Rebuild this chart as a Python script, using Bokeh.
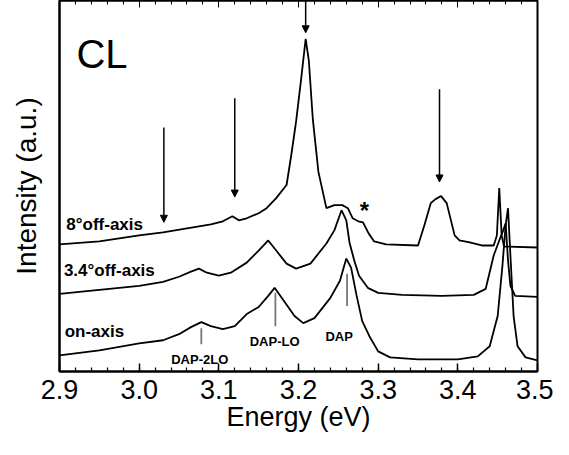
from bokeh.plotting import figure
from bokeh.models import Range1d, LinearAxis, FixedTicker, CustomJSTickFormatter, Arrow, NormalHead
from bokeh.core.properties import value
from bokeh.embed import file_html
from bokeh.resources import INLINE

FONT = "Liberation Sans"

# ---- data (intensity in arbitrary units) ----
on_E = [2.90, 2.95, 3.00, 3.03, 3.05, 3.065, 3.078, 3.09, 3.105, 3.12, 3.135, 3.15, 3.162, 3.170,
        3.18, 3.195, 3.206, 3.22, 3.24, 3.252, 3.260, 3.266, 3.273, 3.280, 3.289, 3.30, 3.315,
        3.35, 3.40, 3.425, 3.44, 3.45, 3.456, 3.460, 3.463, 3.466, 3.470, 3.475, 3.485, 3.50]
on_I = [16, 21, 28, 31, 37, 44, 49, 45, 42, 45, 57, 64, 75, 83,
        72, 55, 48, 53, 73, 90, 112, 103, 75, 50, 35, 20, 14,
        12, 12, 15, 25, 55, 105, 145, 162, 115, 55, 25, 14, 11]

mid_E = [2.90, 2.95, 3.00, 3.03, 3.05, 3.065, 3.075, 3.085, 3.10, 3.115, 3.135, 3.150, 3.162,
         3.172, 3.185, 3.197, 3.215, 3.235, 3.245, 3.254, 3.260, 3.264, 3.270, 3.276, 3.287,
         3.30, 3.33, 3.38, 3.42, 3.435, 3.445, 3.452, 3.457, 3.460, 3.463, 3.466, 3.472, 3.50]
mid_I = [77, 81, 85, 89, 94, 99, 102, 98, 95, 98, 108, 120, 130,
         120, 107, 102, 107, 127, 140, 160, 150, 128, 110, 95, 83,
         78, 76, 75, 76, 82, 115, 130, 140, 147, 110, 85, 75, 74]

off8_E = [2.90, 2.95, 3.00, 3.03, 3.06, 3.09, 3.105, 3.117, 3.125, 3.135, 3.15, 3.16, 3.172,
          3.185, 3.191, 3.197, 3.2036, 3.209, 3.213, 3.218, 3.225, 3.235, 3.245, 3.255, 3.262,
          3.268, 3.275, 3.281, 3.288, 3.295, 3.31, 3.35, 3.358, 3.366, 3.372, 3.379, 3.386,
          3.396, 3.402, 3.415, 3.43, 3.445, 3.449, 3.452, 3.455, 3.458, 3.50]
off8_I = [126, 129, 135, 138, 142, 146, 149, 154, 150, 152, 157, 162, 172,
          185, 215, 248, 292, 330, 308, 250, 198, 162, 165, 165, 162,
          152, 149, 148, 137, 129, 126, 125, 145, 167, 171, 174, 167,
          135, 130, 128, 125, 125, 135, 182, 135, 124, 123]

# arrows (energy, start intensity, end intensity)
arrow_E = [3.031, 3.120, 3.209, 3.377]
arrow_y0 = [242, 271, 368, 280]
arrow_y1 = [148, 173, 336, 188]

# assignment markers
mark_E = [3.078, 3.171, 3.261]
mark_y0 = [43, 78, 97]
mark_y1 = [27, 45, 65]
mark_labels = ["DAP-2LO", "DAP-LO", "DAP"]
mark_label_E = [3.076, 3.170, 3.251]
mark_label_y = [12, 30, 35]

curve_labels = ["8°off-axis", "3.4°off-axis", "on-axis"]
curve_label_E = [2.9085, 2.9055, 2.9065]
curve_label_y = [146, 100, 40]

x_ticks = [2.9, 3.0, 3.1, 3.2, 3.3, 3.4, 3.5]
x_tick_labels = ["2.9", "3.0", "3.1", "3.2", "3.3", "3.4", "3.5"]
x_minor = [round(2.9 + 0.02 * i, 2) for i in range(31)]

p = figure(width=553, height=447, output_backend="svg", toolbar_location=None,
           x_range=Range1d(2.9, 3.5), y_range=Range1d(0, 368),
           min_border_left=59, min_border_right=16, min_border_top=0, min_border_bottom=76,
           x_axis_location=None, y_axis_location=None)
p.grid.visible = False
p.outline_line_color = "black"
p.outline_line_width = 2
p.background_fill_color = "white"
p.border_fill_color = "white"

ticker = FixedTicker(ticks=x_ticks, minor_ticks=x_minor)

xb = LinearAxis(ticker=ticker, axis_label="Energy (eV)")
xb.major_label_overrides = {t: s for t, s in zip(x_ticks, x_tick_labels)}
xb.major_tick_in = 8
xb.major_tick_out = 0
xb.minor_tick_in = 4
xb.minor_tick_out = 0
xb.major_tick_line_width = 1.5
xb.minor_tick_line_width = 1.2
xb.axis_line_width = 2
xb.major_label_text_font = FONT
xb.major_label_text_font_size = "27px"
xb.major_label_text_color = "black"
xb.major_label_standoff = 8
xb.axis_label_text_font = FONT
xb.axis_label_text_font_size = "27px"
xb.axis_label_text_font_style = "normal"
xb.axis_label_text_color = "black"
xb.axis_label_standoff = 0
p.add_layout(xb, "below")

xt = LinearAxis(ticker=ticker)
xt.formatter = CustomJSTickFormatter(code="return ''")
xt.major_tick_in = 7
xt.major_tick_out = 0
xt.minor_tick_in = 4
xt.minor_tick_out = 0
xt.major_label_standoff = 0
xt.major_label_text_font_size = "1px"
xt.axis_line_width = 2
p.add_layout(xt, "above")

yl = LinearAxis(axis_label="Intensity (a.u.)")
yl.formatter = CustomJSTickFormatter(code="return ''")
yl.major_tick_line_color = None
yl.minor_tick_line_color = None
yl.major_label_standoff = 0
yl.major_label_text_font_size = "1px"
yl.axis_line_width = 2
yl.axis_label_text_font = FONT
yl.axis_label_text_font_size = "28px"
yl.axis_label_text_font_style = "normal"
yl.axis_label_text_color = "black"
yl.axis_label_standoff = 12
p.add_layout(yl, "left")

# spectra
p.line(on_E, on_I, line_color="black", line_width=1.8)
p.line(mid_E, mid_I, line_color="black", line_width=1.8)
p.line(off8_E, off8_I, line_color="black", line_width=1.8)

# arrows
for e, a, b in zip(arrow_E, arrow_y0, arrow_y1):
    p.add_layout(Arrow(x_start=e, y_start=a, x_end=e, y_end=b, line_color="black", line_width=1.5,
                       end=NormalHead(size=7, fill_color="black", line_color="black")))

# assignment marker lines
p.segment(x0=mark_E, y0=mark_y0, x1=mark_E, y1=mark_y1, line_color="#777777", line_width=1.8)

p.text(x=mark_label_E, y=mark_label_y, text=mark_labels, text_font=value(FONT),
       text_font_size="13px", text_font_style="bold", text_align="center",
       text_baseline="middle", text_color="black")

p.text(x=curve_label_E, y=curve_label_y, text=curve_labels, text_font=value(FONT),
       text_font_size="17px", text_font_style="bold", text_align="left",
       text_baseline="middle", text_color="black")

p.text(x=[2.9213], y=[315], text=["CL"], text_font=value(FONT), text_font_size="40px",
       text_align="left", text_baseline="alphabetic", text_color="black")

p.text(x=[3.2827], y=[160], text=["*"], text_font=value(FONT), text_font_size="24px",
       text_font_style="bold", text_align="center", text_baseline="middle", text_color="black")

open("out.html", "w").write(file_html(p, INLINE))
